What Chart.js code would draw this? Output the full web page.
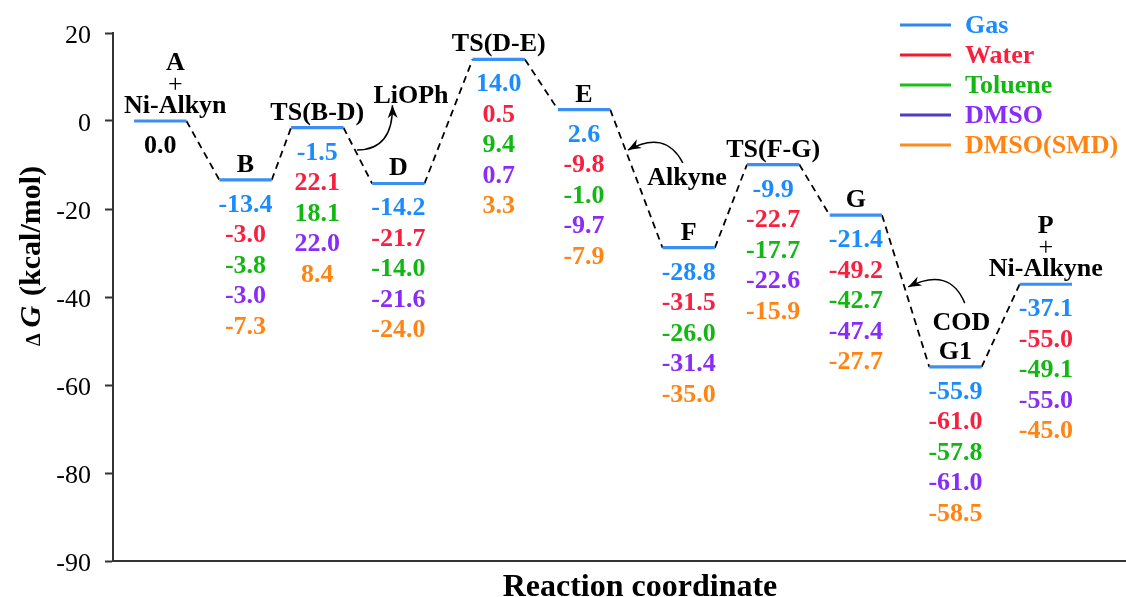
<!DOCTYPE html>
<html>
<head>
<meta charset="utf-8">
<title>Reaction energy profile</title>
<script src="https://cdn.jsdelivr.net/npm/chart.js@4.4.1/dist/chart.umd.min.js"></script>
<style>
  html, body { margin: 0; padding: 0; background: #fff; }
  #wrap { width: 1126px; height: 597px; }
</style>
</head>
<body>
<div id="wrap"><canvas id="profileChart" width="1126" height="597"></canvas></div>
<script>
// Stages along the reaction coordinate
const stageNames = [
  ['A', '+', 'Ni-Alkyn'], ['B'], ['TS(B-D)'], ['D'], ['TS(D-E)'], ['E'],
  ['F'], ['TS(F-G)'], ['G'], ['G1'], ['P', '+', 'Ni-Alkyne'],
];
const stagePos = [0.56, 1.57, 2.42, 3.38, 4.57, 5.58, 6.82, 7.82, 8.80, 9.98, 11.05];

// Relative free energies (kcal/mol)
const gasValues = [0.0, -13.4, -1.5, -14.2, 14.0, 2.6, -28.8, -9.9, -21.4, -55.9, -37.1];
const waterValues = [null, -3.0, 22.1, -21.7, 0.5, -9.8, -31.5, -22.7, -49.2, -61.0, -55.0];
const tolueneValues = [null, -3.8, 18.1, -14.0, 9.4, -1.0, -26.0, -17.7, -42.7, -57.8, -49.1];
const dmsoValues = [null, -3.0, 22.0, -21.6, 0.7, -9.7, -31.4, -22.6, -47.4, -61.0, -55.0];
const smdValues = [null, -7.3, 8.4, -24.0, 3.3, -7.9, -35.0, -15.9, -27.7, -58.5, -45.0];

const solventNames = ['Gas', 'Water', 'Toluene', 'DMSO', 'DMSO(SMD)'];

// Y axis ticks (bottom tick is printed as -90 in the original figure)
const yTickValues = [20, 0, -20, -40, -60, -80, -100];
const yTickLabels = ['20', '0', '-20', '-40', '-60', '-80', '-90'];

// Reagents added/released, with their curved arrows (chart units)
const reagentNotes = [
  { text: 'LiOPh', at: [3.53, 4.1], from: [2.89, -6.6], via: [3.32, -6.6], to: [3.31, 3.6] },
  { text: 'Alkyne', at: [6.80, -14.5], from: [6.75, -9.5], via: [6.54, -1.9], to: [6.10, -6.6] },
  { text: 'COD', at: [10.05, -47.5], from: [10.09, -41.4], via: [9.91, -33.0], to: [9.42, -37.7] },
];

const solventColors = ['#1a8cff', '#f7213f', '#12b812', '#8a2cf7', '#ff8412'];
const legendLineColors = ['#2f86f0', '#f51a2a', '#18c018', '#4a3fc2', '#ff8a1e'];
const levelColor = '#3b8ef2';
const halfWidth = 0.31;
const serif = '"Liberation Serif", "Times New Roman", serif';

const allValues = [gasValues, waterValues, tolueneValues, dmsoValues, smdValues];

// Build level segments and dashed connectors from the gas-phase energies
const levelPoints = [];
const linkPoints = [];
stagePos.forEach((x, i) => {
  levelPoints.push({ x: x - halfWidth, y: gasValues[i] });
  levelPoints.push({ x: x + halfWidth, y: gasValues[i] });
  levelPoints.push({ x: x + halfWidth, y: null });
  if (i < stagePos.length - 1) {
    linkPoints.push({ x: x + halfWidth, y: gasValues[i] });
    linkPoints.push({ x: stagePos[i + 1] - halfWidth, y: gasValues[i + 1] });
    linkPoints.push({ x: stagePos[i + 1] - halfWidth, y: null });
  }
});

function drawArrow(ctx, p0, c, p1) {
  ctx.beginPath();
  ctx.moveTo(p0[0], p0[1]);
  ctx.quadraticCurveTo(c[0], c[1], p1[0], p1[1]);
  ctx.stroke();
  const ang = Math.atan2(p1[1] - c[1], p1[0] - c[0]);
  const len = 13, wid = 5;
  ctx.beginPath();
  ctx.moveTo(p1[0], p1[1]);
  ctx.lineTo(p1[0] - len * Math.cos(ang) + wid * Math.sin(ang), p1[1] - len * Math.sin(ang) - wid * Math.cos(ang));
  ctx.lineTo(p1[0] - len * 0.7 * Math.cos(ang), p1[1] - len * 0.7 * Math.sin(ang));
  ctx.lineTo(p1[0] - len * Math.cos(ang) - wid * Math.sin(ang), p1[1] - len * Math.sin(ang) + wid * Math.cos(ang));
  ctx.closePath();
  ctx.fill();
}

const labelPlugin = {
  id: 'profileLabels',
  afterDatasetsDraw(chart) {
    const { ctx, scales: { x, y } } = chart;
    const px = (p) => [x.getPixelForValue(p[0]), y.getPixelForValue(p[1])];
    ctx.save();
    ctx.textAlign = 'center';
    ctx.textBaseline = 'alphabetic';

    stagePos.forEach((pos, i) => {
      const cx = x.getPixelForValue(pos);
      const ly = y.getPixelForValue(gasValues[i]);

      // stage names above the level (first one nudged off the axis)
      const nameX = i === 0 ? cx + 15 : cx;
      ctx.fillStyle = '#000';
      const lines = stageNames[i];
      lines.forEach((t, j) => {
        const by = ly - 8 - (lines.length - 1 - j) * 21.5;
        ctx.font = (t === '+' ? '' : 'bold ') + '26px ' + serif;
        ctx.fillText(t, nameX, by);
      });

      // energies below the level, one row per solvent model
      ctx.font = 'bold 26px ' + serif;
      allValues.forEach((vals, k) => {
        if (vals[i] === null) return;
        ctx.fillStyle = (i === 0 && k === 0) ? '#000' : solventColors[k];
        ctx.fillText(vals[i].toFixed(1), cx, ly + 32 + 30.5 * k);
      });
    });

    // reagent notes
    ctx.fillStyle = '#000';
    ctx.strokeStyle = '#000';
    ctx.lineWidth = 1.5;
    reagentNotes.forEach((n) => {
      ctx.font = 'bold 26px ' + serif;
      const t = px(n.at);
      ctx.fillText(n.text, t[0], t[1]);
      drawArrow(ctx, px(n.from), px(n.via), px(n.to));
    });

    // legend
    ctx.textAlign = 'left';
    ctx.textBaseline = 'middle';
    solventNames.forEach((name, k) => {
      const ry = 25 + 30 * k;
      ctx.strokeStyle = legendLineColors[k];
      ctx.lineWidth = 3;
      ctx.beginPath();
      ctx.moveTo(900, ry);
      ctx.lineTo(951, ry);
      ctx.stroke();
      ctx.fillStyle = solventColors[k];
      ctx.font = 'bold 26px ' + serif;
      ctx.fillText(name, 965, ry + 1);
    });

    // axis titles
    ctx.fillStyle = '#000';
    ctx.textAlign = 'center';
    ctx.textBaseline = 'alphabetic';
    ctx.font = 'bold 32px ' + serif;
    ctx.fillText('Reaction coordinate', 640, 596);

    const parts = [
      { t: '\u0394', f: 'bold 20px ' + serif, gap: 6 },
      { t: 'G', f: 'italic bold 30px ' + serif, gap: 10 },
      { t: '(kcal/mol)', f: 'bold 30px ' + serif, gap: 0 },
    ];
    let total = 0;
    parts.forEach((p) => { ctx.font = p.f; p.w = ctx.measureText(p.t).width; total += p.w + p.gap; });
    ctx.translate(40, 256);
    ctx.rotate(-Math.PI / 2);
    ctx.textAlign = 'left';
    let off = -total / 2;
    parts.forEach((p) => { ctx.font = p.f; ctx.fillText(p.t, off, 0); off += p.w + p.gap; });
    ctx.restore();
  },
};

new Chart(document.getElementById('profileChart'), {
  type: 'line',
  data: {
    datasets: [
      {
        label: 'Gas',
        data: levelPoints,
        borderColor: levelColor,
        borderWidth: 3.2,
        pointRadius: 0,
        spanGaps: false,
      },
      {
        label: 'links',
        data: linkPoints,
        borderColor: '#000',
        borderWidth: 1.8,
        borderDash: [7, 5],
        pointRadius: 0,
        spanGaps: false,
      },
    ],
  },
  options: {
    responsive: false,
    animation: false,
    devicePixelRatio: 1,
    layout: { padding: { top: 33, right: 0, left: 0, bottom: 0 } },
    plugins: {
      legend: { display: false },
      tooltip: { enabled: false },
    },
    scales: {
      x: {
        type: 'linear',
        min: 0,
        max: 12,
        ticks: { display: false },
        grid: { display: false },
        border: { display: true, color: '#333', width: 2 },
        afterFit: (s) => { s.height = 36; },
      },
      y: {
        type: 'linear',
        min: -100,
        max: 20,
        afterBuildTicks: (s) => { s.ticks = yTickValues.map((v) => ({ value: v })); },
        ticks: {
          callback: (v) => yTickLabels[yTickValues.indexOf(v)],
          color: '#000',
          padding: 14,
          labelOffset: 3,
          font: { family: serif, size: 26 },
        },
        grid: {
          display: true,
          drawOnChartArea: false,
          drawTicks: true,
          tickLength: 8,
          tickWidth: 2,
          tickColor: '#333',
        },
        border: { display: true, color: '#333', width: 2 },
        afterFit: (s) => { s.width = 113; },
      },
    },
  },
  plugins: [labelPlugin],
});
</script>
</body>
</html>
